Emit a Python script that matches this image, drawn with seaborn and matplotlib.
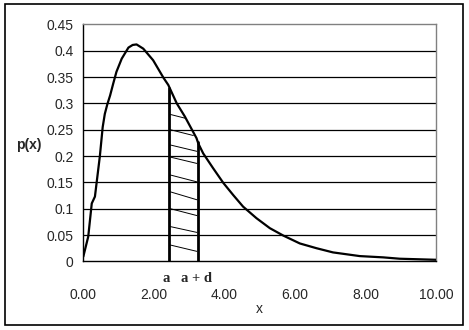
import numpy as np
import pandas as pd
import matplotlib
matplotlib.use("Agg")
import matplotlib.pyplot as plt
import seaborn as sns
from matplotlib.patches import Rectangle

# curve p(x)
x_vals = [0.00, 0.14, 0.24, 0.33, 0.47, 0.55, 0.61, 0.68, 0.76, 0.85, 0.94, 1.09, 1.28, 1.40, 1.51,
          1.70, 1.98, 2.27, 2.41, 2.65, 2.88, 3.21, 3.26, 3.40, 3.68, 3.97, 4.25,
          4.53, 4.91, 5.29, 5.67, 6.14, 6.61, 7.08, 7.84, 8.50, 8.97, 10.00]
p_vals = [0.009, 0.047, 0.110, 0.123, 0.200, 0.255, 0.280, 0.298, 0.315, 0.338, 0.360, 0.385, 0.406, 0.411, 0.412,
          0.404, 0.382, 0.349, 0.335, 0.300, 0.275, 0.234, 0.224, 0.205, 0.177, 0.149, 0.126,
          0.104, 0.082, 0.063, 0.049, 0.034, 0.025, 0.017, 0.010, 0.0076, 0.005, 0.003]

# interval a .. a+d
a_x, a_top = 2.44, 0.330
ad_x, ad_top = 3.26, 0.227

# hatch strokes: left end (x, y) -> right end (x, y)
hatch_x0 = [2.47] * 9
hatch_y0 = [0.279, 0.250, 0.221, 0.198, 0.164, 0.132, 0.100, 0.066, 0.031]
hatch_x1 = [2.88, 3.12, 3.22, 3.22, 3.22, 3.22, 3.22, 3.22, 3.22]
hatch_y1 = [0.272, 0.239, 0.209, 0.186, 0.151, 0.117, 0.087, 0.055, 0.019]

y_ticks = [0, 0.05, 0.1, 0.15, 0.2, 0.25, 0.3, 0.35, 0.4, 0.45]
y_labels = ["0", "0.05", "0.1", "0.15", "0.2", "0.25", "0.3", "0.35", "0.4", "0.45"]
x_ticks = [0, 2, 4, 6, 8, 10]
x_labels = ["0.00", "2.00", "4.00", "6.00", "8.00", "10.00"]

sns.set_style("white")
plt.rcParams['font.family'] = ['Liberation Sans', 'DejaVu Sans']

fig = plt.figure(figsize=(4.69, 3.30), dpi=100)
ax = fig.add_axes([0.1776, 0.208, 0.752, 0.718])

# horizontal gridlines
for yv in y_ticks[1:-1]:
    ax.axhline(yv, color='black', lw=0.9, zorder=1)

df = pd.DataFrame({'x': x_vals, 'p': p_vals})
sns.lineplot(data=df, x='x', y='p', color='black', lw=1.6, ax=ax, zorder=3)

ax.plot([a_x, a_x], [0, a_top], color='black', lw=2, zorder=4)
ax.plot([ad_x, ad_x], [0, ad_top], color='black', lw=2, zorder=4)
for x0, y0, x1, y1 in zip(hatch_x0, hatch_y0, hatch_x1, hatch_y1):
    ax.plot([x0, x1], [y0, y1], color='black', lw=0.7, zorder=2)

ax.set_xlim(0, 10)
ax.set_ylim(0, 0.45)
ax.set_xticks(x_ticks)
ax.set_xticklabels(x_labels, fontsize=10)
ax.set_yticks(y_ticks)
ax.set_yticklabels(y_labels, fontsize=10)
ax.tick_params(axis='both', direction='out', length=4, width=1, color='black', pad=3)
ax.tick_params(axis='x', pad=15)

for side in ['left', 'bottom']:
    ax.spines[side].set_color('black')
    ax.spines[side].set_linewidth(1)
for side in ['top', 'right']:
    ax.spines[side].set_color('#808080')
    ax.spines[side].set_linewidth(1)

ax.set_xlabel("x", fontsize=10, labelpad=0)
ax.set_ylabel("")
fig.text(0.061, 0.56, "p(x)", fontsize=10, fontweight='bold', ha='center', va='center')

# a and a+d labels below axis
ax.annotate("a", xy=(a_x, 0), xytext=(-2, -8), textcoords='offset points',
            ha='center', va='top', fontsize=10.5, fontweight='bold', family='Liberation Serif')
ax.annotate("a + d", xy=(ad_x, 0), xytext=(-1, -8), textcoords='offset points',
            ha='center', va='top', fontsize=10.5, fontweight='bold', family='Liberation Serif')

fig.patches.append(Rectangle((0.0107, 0.015), 0.976, 0.973, transform=fig.transFigure,
                             fill=False, edgecolor='black', lw=1.2))

fig.savefig("out.png", dpi=100)
